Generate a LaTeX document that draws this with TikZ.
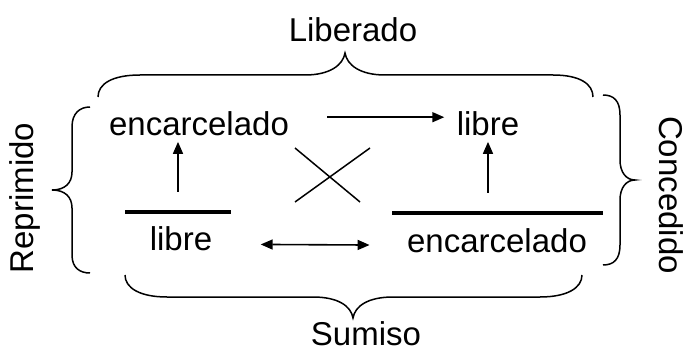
\documentclass[tikz,border=0pt]{standalone}
\usepackage{fontspec}
\setmainfont{Liberation Sans}
\usetikzlibrary{arrows.meta,positioning,calc}

\begin{document}
\begin{tikzpicture}[x=1pt,y=-1pt,
  lbl/.style={font=\fontsize{33}{40}\selectfont, anchor=base},
  arr/.style={line width=1.6pt, >={Triangle[length=12pt,width=10pt]}, ->},
  bar/.style={line width=4.5pt},
  curly/.style={line width=1.5pt}]
\useasboundingbox (0,0) rectangle (686,350);

% States
\node[lbl] (encT) at (199,136) {encarcelado};
\node[lbl] (libT) at (488,136) {libre};
\node[lbl] (libB) at (181,251) {libre};
\node[lbl] (encB) at (497,252) {encarcelado};

% Bars
\coordinate (barL) at (178,212);
\coordinate (barR) at (497,213);
\draw[bar] (125,212) -- (231,212);
\draw[bar] (392,213) -- (603,213);

% Arrows
\draw[arr, shorten <=20pt, shorten >=2pt] (barL) -- (barL |- encT.south);
\draw[arr, shorten <=20pt, shorten >=2pt] (libT.south |- barR) -- (libT.south);
\draw[arr, shorten <=35pt, shorten >=9pt] ([yshift=7pt]encT.east) -- ([yshift=7pt]libT.west);
\draw[arr, <->, shorten <=45pt, shorten >=34pt] ([yshift=-5pt]libB.east) -- ([yshift=-5pt]encB.west);

% Cross
\draw[line width=1.5pt] (295,148) -- (360,202);
\draw[line width=1.5pt] (370,148) -- (295,202);

% Braces
\draw[curly] (98,97) .. controls (98,84) and (112,75) .. (140,75) -- (305,75)
  .. controls (330,75) and (343,65) .. (345,53)
  .. controls (347,65) and (360,75) .. (385,75) -- (553,75)
  .. controls (580,75) and (593,84) .. (593,97);
\draw[curly] (125,275) .. controls (125,288) and (140,297) .. (167,297) -- (313,297)
  .. controls (338,297) and (351,306) .. (353,318)
  .. controls (355,306) and (368,297) .. (393,297) -- (540,297)
  .. controls (567,297) and (582,288) .. (582,275);
\draw[curly] (90,107) .. controls (80,107) and (72,113) .. (72,127) -- (72,172)
  .. controls (72,183) and (65,190) .. (52,190)
  .. controls (65,190) and (72,197) .. (72,208) -- (72,255)
  .. controls (72,268) and (80,273) .. (90,273);
\draw[curly] (603,95) .. controls (614,95) and (620,101) .. (620,115) -- (620,160)
  .. controls (620,172) and (626,180) .. (635,180)
  .. controls (626,180) and (620,188) .. (620,200) -- (620,245)
  .. controls (620,259) and (614,265) .. (603,265);

% Labels
\node[lbl] (lib) at (353,42) {Liberado};
\node[lbl, inner sep=1pt] (sum) at (366,345) {Sumiso};
\node[lbl, rotate=90] (rep) at (33,198) {Reprimido};
\node[lbl, rotate=-90] (con) at (659,195) {Concedido};
\end{tikzpicture}
\end{document}
